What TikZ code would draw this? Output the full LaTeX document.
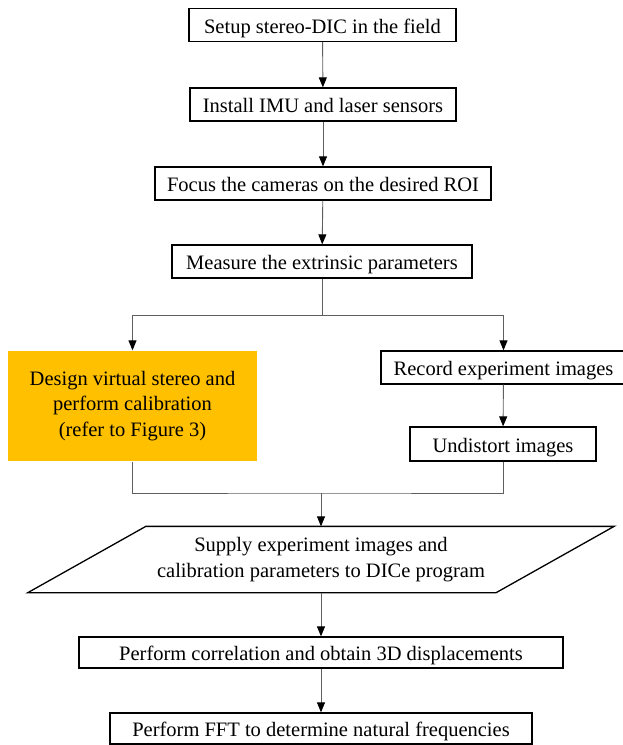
\documentclass[tikz,border=0pt]{standalone}
\usepackage{fontspec}
\setmainfont{Liberation Serif}
\usetikzlibrary{arrows.meta}
\definecolor{gold}{RGB}{255,192,0}
\definecolor{linegray}{RGB}{95,95,95}
\tikzset{
  boxtext/.style={line width=1.3pt, inner sep=0pt, font=\fontsize{20.5}{25.5}\selectfont},
  stepbox/.style={boxtext, draw=black, minimum height=33pt, text height=16pt, text depth=0pt},
  multibox/.style={boxtext, align=center, execute at begin node={\rule{0pt}{20pt}}},
  arr/.style={draw=linegray, line width=0.9pt, -{Triangle[length=10pt,width=8pt,color=black]}},
  link/.style={draw=linegray, line width=0.9pt},
}
\begin{document}
\begin{tikzpicture}[x=1pt,y=-1pt]
  \useasboundingbox (0,0) rectangle (622,745);
  % steps in the field
  \node[stepbox, minimum width=267pt] (setup) at (322.5,25) {Setup stereo-DIC in the field};
  \node[stepbox, minimum width=266pt] (install) at (323,104.5) {Install IMU and laser sensors};
  \node[stepbox, minimum width=336pt] (focus) at (323,183.5) {Focus the cameras on the desired ROI};
  \node[stepbox, minimum width=300pt] (measure) at (322,261.5) {Measure the extrinsic parameters};
  % two branches
  \node[multibox, fill=gold, minimum width=249pt, minimum height=110pt]
    (design) at (132.5,406) {Design virtual stereo and\\perform calibration\\(refer to Figure 3)};
  \node[stepbox, minimum width=245pt] (record) at (503.5,367.5) {Record experiment images};
  \node[stepbox, minimum width=186pt, minimum height=34pt] (undistort) at (503,444) {Undistort images};
  % input to DICe
  \node[multibox, minimum width=467pt, minimum height=65pt]
    (supply) at (321,559.5) {Supply experiment images and\\calibration parameters to DICe program};
  \draw[line width=1.3pt, line join=miter]
    ([xshift=-59pt]supply.south west) -- ([xshift=-59pt]supply.south east)
    -- ([xshift=59pt]supply.north east) -- ([xshift=59pt]supply.north west) -- cycle;
  \node[stepbox, minimum width=484pt, minimum height=31pt] (correl) at (321,652.5) {Perform correlation and obtain 3D displacements};
  \node[stepbox, minimum width=422pt, minimum height=31pt] (fft) at (321,728.5) {Perform FFT to determine natural frequencies};
  % connectors
  \draw[arr] (setup) -- (install);
  \draw[arr] (install) -- (focus);
  \draw[arr] (focus) -- (measure);
  \coordinate (fork) at (322,315);
  \draw[link] (measure) -- (fork);
  \draw[arr] (fork) -| (design.north);
  \draw[arr] (fork) -| (record.north);
  \draw[arr] (record) -- (undistort);
  \coordinate (join) at (321,493);
  \draw[link] (design.south) |- (join) -| (undistort.south);
  \draw[arr] (join) -- (supply.north);
  \draw[arr] (supply) -- (correl);
  \draw[arr] (correl) -- (fft);
\end{tikzpicture}
\end{document}
